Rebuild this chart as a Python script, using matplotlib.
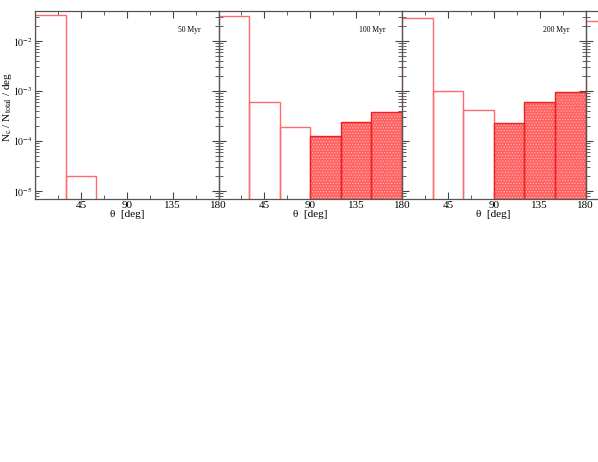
import numpy as np
import matplotlib
matplotlib.use('Agg')
import matplotlib.pyplot as plt
from matplotlib.ticker import MultipleLocator, LogLocator, NullFormatter, FuncFormatter

plt.rcParams['font.family'] = ['Liberation Serif', 'DejaVu Serif']
plt.rcParams['mathtext.fontset'] = 'stix'
plt.rcParams['hatch.linewidth'] = 0.6

# bins of 30 deg in theta
bin_left = [0, 30, 60, 90, 120, 150]
panel_labels = ['50 Myr', '100 Myr', '200 Myr', '']
frac_50 = [3.3e-2, 2.0e-5, 0, 0, 0, 0]
frac_100 = [3.2e-2, 6.0e-4, 1.9e-4, 1.26e-4, 2.45e-4, 3.8e-4]
frac_200 = [2.95e-2, 1.0e-3, 4.2e-4, 2.25e-4, 6.0e-4, 9.5e-4]
frac_400 = [2.5e-2, 0, 0, 0, 0, 0]
filled_from = 3  # bins from 90 deg on are shaded

line_red = '#ff6a6a'
fill_red = '#ff6060'


def pow_label(v, pos):
    e = int(round(np.log10(v)))
    return r'$10^{\mathrm{-%d}}$' % (-e) if e < 0 else r'$10^{%d}$' % e


fig = plt.figure(figsize=(5.98, 4.62), dpi=100)

x0, w = 35 / 598, 183.5 / 598
y0, h = 1 - 199 / 462, 188 / 462

for i, vals in enumerate([frac_50, frac_100, frac_200, frac_400]):
    ax = fig.add_axes([x0 + i * w, y0, w, h])
    ax.set_yscale('log')
    for j, (xl, v) in enumerate(zip(bin_left, vals)):
        if v <= 0:
            continue
        if j >= filled_from and i > 0:
            ax.bar(xl, v - 1e-7, bottom=1e-7, width=30, align='edge',
                   facecolor=fill_red, edgecolor='#ffb0b0', hatch='......',
                   linewidth=0, zorder=2)
            ax.bar(xl, v - 1e-7, bottom=1e-7, width=30, align='edge',
                   facecolor='none', edgecolor='#ee2020', linewidth=1.0, zorder=3)
        else:
            ax.bar(xl, v - 1e-7, bottom=1e-7, width=30, align='edge',
                   facecolor='none', edgecolor=line_red, linewidth=1.0, zorder=2)
    ax.set_xlim(0, 180)
    ax.set_ylim(6.9e-6, 4.0e-2)
    ax.xaxis.set_major_locator(MultipleLocator(45))
    ax.xaxis.set_minor_locator(MultipleLocator(22.5))
    ax.yaxis.set_major_locator(LogLocator(base=10))
    ax.yaxis.set_minor_locator(LogLocator(base=10, subs=np.arange(2, 10)))
    ax.yaxis.set_major_formatter(FuncFormatter(pow_label))
    ax.yaxis.set_minor_formatter(NullFormatter())
    ax.tick_params(which='both', direction='in', top=True, right=True,
                   labelsize=8, colors='#444444', labelcolor='black', pad=1.5)
    ax.tick_params(axis='y', labelsize=7)
    ax.tick_params(which='major', length=5, width=0.8)
    ax.tick_params(which='minor', length=3, width=0.6)
    ax.set_xticks([45, 90, 135, 180])
    for s in ax.spines.values():
        s.set_color('#555555')
        s.set_linewidth(0.9)
    if i > 0:
        ax.set_yticklabels([])
    else:
        ax.set_ylabel(r'N$_\mathrm{c}$ / N$_\mathrm{total}$ / deg', fontsize=8)
        ax.yaxis.set_label_coords(-0.112, 0.49)
    if i < 3:
        ax.set_xlabel('θ  [deg]', fontsize=8, labelpad=0)
        ax.text(0.84, 0.90, panel_labels[i], transform=ax.transAxes,
                fontsize=5.5, ha='center', va='center')
    else:
        ax.set_xticklabels([])

fig.savefig('out.png', dpi=100)
